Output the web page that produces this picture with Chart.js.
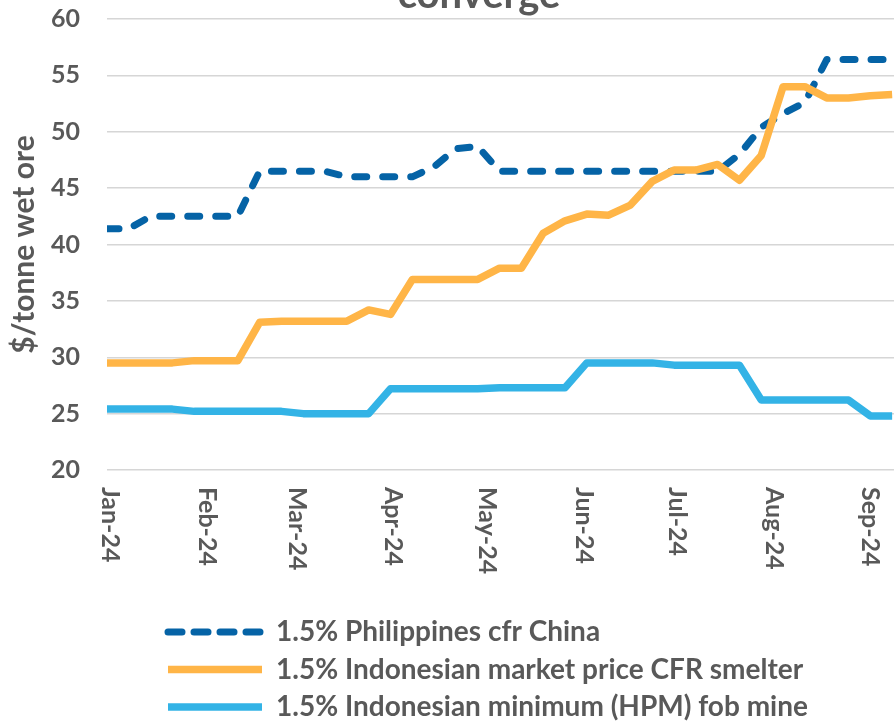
<!DOCTYPE html>
<html>
<head>
<meta charset="utf-8">
<script src="https://cdn.jsdelivr.net/npm/chart.js@4.4.1/dist/chart.umd.min.js"></script>
<style>
  html, body { margin: 0; padding: 0; background: #fff; overflow: hidden; }
  #wrap { position: relative; width: 894px; height: 721px; overflow: hidden; }
  #chart { position: absolute; left: 0; top: -29px; }
</style>
</head>
<body>
<div id="wrap"><canvas id="chart" width="894" height="760"></canvas></div>
<script>
// weekly observations, x = days since 1 Jan 2024
const days = [0, 7, 14, 21, 28, 35, 42, 49, 56, 63, 70, 77, 84, 91, 98, 105, 112, 119, 126,
  133, 140, 147, 154, 161, 168, 175, 182, 189, 196, 203, 210, 217, 224, 231, 238, 245, 252];

const philippines = [41.4, 41.4, 42.5, 42.5, 42.5, 42.5, 42.5, 46.5, 46.5, 46.5, 46.5, 46.0, 46.0,
  46.0, 46.0, 46.9, 48.5, 48.7, 46.5, 46.5, 46.5, 46.5, 46.5, 46.5, 46.5, 46.5, 46.5, 46.5, 46.5,
  48.0, 50.4, 51.6, 52.6, 56.4, 56.4, 56.4, 56.4];

const indoMarket = [29.5, 29.5, 29.5, 29.5, 29.7, 29.7, 29.7, 33.1, 33.2, 33.2, 33.2, 33.2, 34.2,
  33.8, 36.9, 36.9, 36.9, 36.9, 37.9, 37.9, 41.0, 42.1, 42.7, 42.6, 43.5, 45.6, 46.6, 46.6, 47.1,
  45.7, 47.9, 54.0, 54.0, 53.0, 53.0, 53.2, 53.3];

const indoHpm = [25.4, 25.4, 25.4, 25.4, 25.2, 25.2, 25.2, 25.2, 25.2, 25.0, 25.0, 25.0, 25.0,
  27.2, 27.2, 27.2, 27.2, 27.2, 27.3, 27.3, 27.3, 27.3, 29.5, 29.5, 29.5, 29.5, 29.3, 29.3, 29.3,
  29.3, 26.2, 26.2, 26.2, 26.2, 26.2, 24.8, 24.8];

const monthDays = [0, 31, 60, 91, 121, 152, 182, 213, 244];
const monthLabels = ["Jan-24", "Feb-24", "Mar-24", "Apr-24", "May-24", "Jun-24", "Jul-24", "Aug-24", "Sep-24"];

const seriesNames = [
  "1.5% Philippines cfr China",
  "1.5% Indonesian market price CFR smelter",
  "1.5% Indonesian minimum (HPM) fob mine"
];

const textColor = "#595959";
const fontFamily = "Lato, 'Open Sans', sans-serif";

function toPoints(values) {
  return values.map((v, i) => ({ x: days[i], y: v }));
}

// month labels, rotated to read downwards like the original
const monthLabelPlugin = {
  id: "monthLabels",
  afterDraw(chart) {
    const ctx = chart.ctx;
    const xScale = chart.scales.x;
    ctx.save();
    ctx.fillStyle = textColor;
    ctx.font = "bold 25px " + fontFamily;
    ctx.textAlign = "left";
    ctx.textBaseline = "middle";
    monthDays.forEach((d, i) => {
      const px = xScale.getPixelForValue(d) + 3;
      ctx.save();
      ctx.translate(px, chart.chartArea.bottom + 17);
      ctx.rotate(Math.PI / 2);
      ctx.fillText(monthLabels[i], 0, 0);
      ctx.restore();
    });
    ctx.restore();
  }
};

// nudge title and legend to where they sit in the original
const placePlugin = {
  id: "place",
  afterLayout(chart) {
    chart.titleBlock.left += 32;
    chart.titleBlock.right += 32;
    chart.legend.left = 158.5;
  }
};

const ctx = document.getElementById("chart").getContext("2d");

new Chart(ctx, {
  type: "line",
  data: {
    datasets: [
      {
        label: seriesNames[0],
        data: toPoints(philippines),
        borderColor: "#0563A6",
        backgroundColor: "#0563A6",
        borderWidth: 7,
        borderDash: [12, 16],
        borderCapStyle: "round",
        order: 3
      },
      {
        label: seriesNames[1],
        data: toPoints(indoMarket),
        borderColor: "#FFB547",
        backgroundColor: "#FFB547",
        borderWidth: 7.5,
        order: 2
      },
      {
        label: seriesNames[2],
        data: toPoints(indoHpm),
        borderColor: "#33B3E6",
        backgroundColor: "#33B3E6",
        borderWidth: 7.5,
        order: 1
      }
    ]
  },
  options: {
    responsive: false,
    animation: false,
    devicePixelRatio: 1,
    layout: { padding: 0 },
    elements: {
      point: { radius: 0, hoverRadius: 0 },
      line: { tension: 0, borderJoinStyle: "round" }
    },
    scales: {
      x: {
        type: "linear",
        min: 0,
        max: 252.6,
        grid: { display: false },
        border: { display: false },
        ticks: { display: false },
        afterFit: (scale) => { scale.height = 138.5; }
      },
      y: {
        min: 20,
        max: 60,
        ticks: {
          stepSize: 5,
          padding: 27,
          color: textColor,
          font: { family: fontFamily, size: 25, weight: "bold" }
        },
        grid: { color: "#D6D6D6", lineWidth: 1.5, drawTicks: false },
        border: { display: false },
        title: {
          display: true,
          text: "$/tonne wet ore",
          color: textColor,
          font: { family: fontFamily, size: 30, weight: "bold" },
          padding: { top: 6, bottom: 0 }
        },
        afterFit: (scale) => { scale.width = 107; }
      }
    },
    plugins: {
      title: {
        display: true,
        text: "converge",
        color: textColor,
        font: { family: fontFamily, size: 40, weight: "bold", lineHeight: 1.2 },
        padding: { top: 0, bottom: 0 }
      },
      legend: {
        position: "bottom",
        align: "start",
        labels: {
          usePointStyle: true,
          pointStyle: "line",
          pointStyleWidth: 94,
          padding: 9.5,
          color: textColor,
          font: { family: fontFamily, size: 28, weight: "bold" },
          sort: (a, b) => a.datasetIndex - b.datasetIndex,
          generateLabels(chart) {
            const items = Chart.defaults.plugins.legend.labels.generateLabels(chart);
            items.forEach((item) => {
              const ds = chart.data.datasets[item.datasetIndex];
              item.lineDash = ds.borderDash ? [14, 12] : [];
              item.lineCap = ds.borderDash ? "round" : "butt";
            });
            return items;
          }
        }
      },
      tooltip: { enabled: false }
    }
  },
  plugins: [monthLabelPlugin, placePlugin]
});
</script>
</body>
</html>
